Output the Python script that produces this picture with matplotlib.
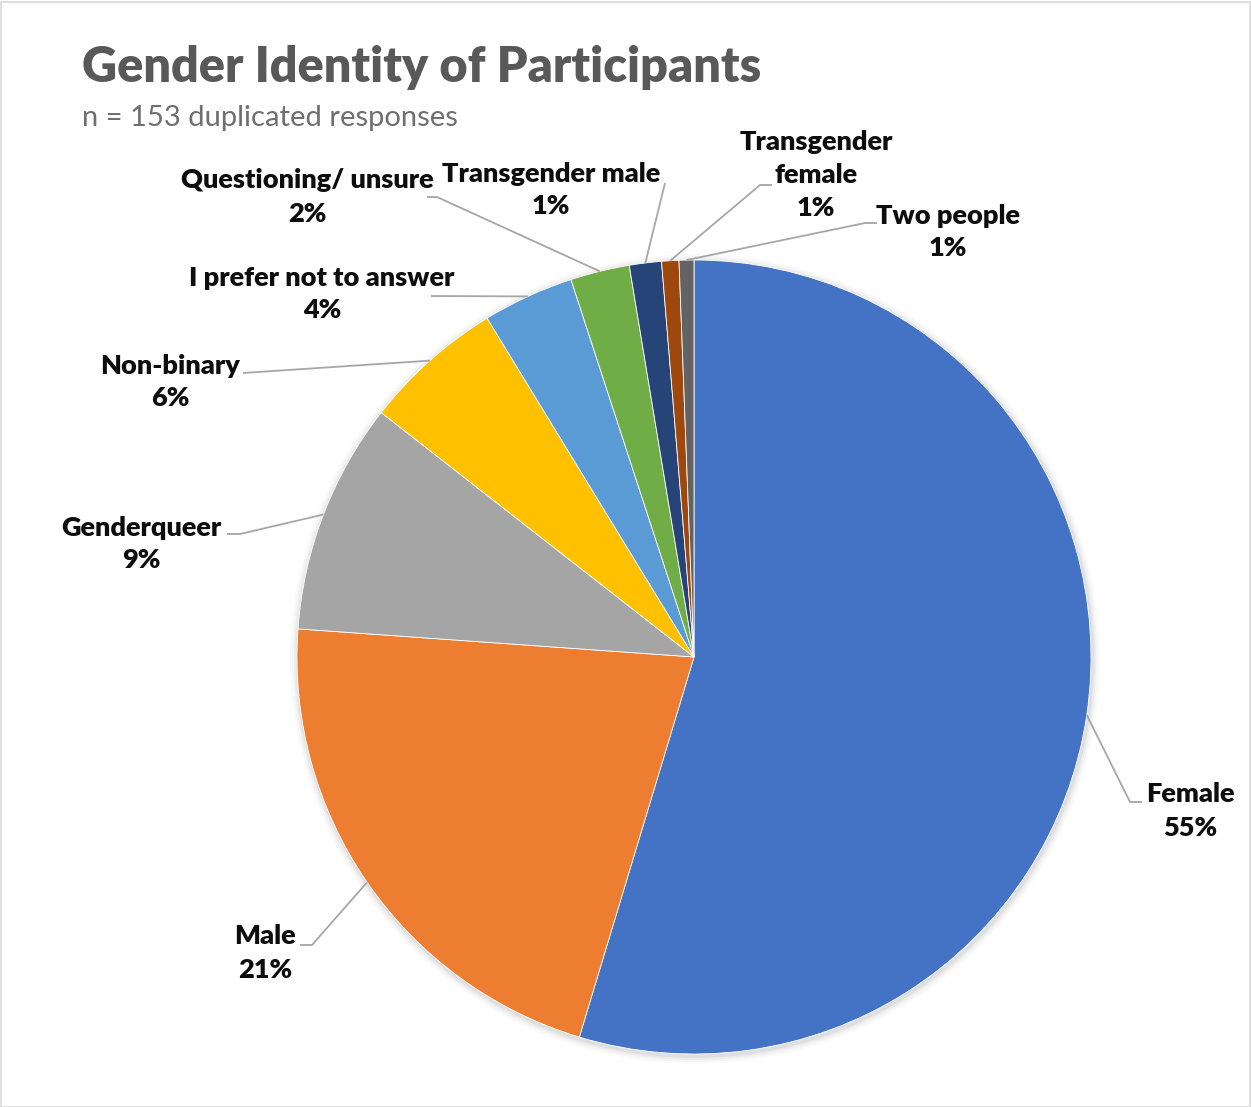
import matplotlib
matplotlib.use('Agg')
import matplotlib.pyplot as plt
import numpy as np
from matplotlib.patches import Rectangle, Circle

categories = ['Female', 'Male', 'Genderqueer', 'Non-binary', 'I prefer not to answer',
              'Questioning/ unsure', 'Transgender male', 'Transgender female', 'Two people']
values = [54.5, 21.4, 9.4, 5.7, 3.7, 2.4, 1.3, 0.7, 0.6]
colors = ['#4472C4', '#ED7D31', '#A5A5A5', '#FFC000', '#5B9BD5',
          '#70AD47', '#264478', '#9E480E', '#636363']
label_texts = ['Female', 'Male', 'Genderqueer', 'Non-binary', 'I prefer not to answer',
               'Questioning/ unsure', 'Transgender male', 'Transgender\nfemale', 'Two people']

W, H = 1251, 1107
FONT = 'Lato'
fig = plt.figure(figsize=(W / 100, H / 100), dpi=100)
ax = fig.add_axes([0, 0, 1, 1])

cx, cy, R = 694, H - 657, 397

# soft shadow
for dr, a in [(8, 0.015), (6, 0.025), (4, 0.035), (2, 0.05)]:
    ax.add_patch(Circle((cx + 1, cy - 2), R + dr, facecolor='black', alpha=a, lw=0, zorder=0))

wedges, _ = ax.pie(values, colors=colors, startangle=90, counterclock=False,
                   center=(cx, cy), radius=R, frame=True,
                   wedgeprops=dict(edgecolor='white', linewidth=0.6))
ax.set_xlim(0, W)
ax.set_ylim(0, H)
ax.set_aspect('equal')
ax.axis('off')

# label placement (pixel coords from top): text center, elbow, end
layout = [
    ((1190, 811), (1130, 802), (1142, 802)),
    ((265, 953), (312, 945), (300, 945)),
    ((141, 544), (240, 534), (227, 534)),
    ((170, 382), (243, 373), (243, 373)),
    ((322, 294), (431, 296), (431, 296)),
    ((307, 197), (437, 197), (427, 197)),
    ((551, 190), (665, 183), (665, 183)),
    ((816, 175), (760, 185), (772, 185)),
    ((948, 232), (865, 223), (877, 223)),
]

total = sum(values)
for w, txt, v, (tc, el, en) in zip(wedges, label_texts, values, layout):
    ang = np.deg2rad((w.theta1 + w.theta2) / 2)
    sx, sy = cx + R * np.cos(ang), cy + R * np.sin(ang)
    ax.plot([sx, el[0], en[0]], [sy, H - el[1], H - en[1]], color='#a6a6a6', lw=1.3,
            solid_capstyle='butt', zorder=3, clip_on=False)
    pct = f"{round(v / total * 100):d}%"
    ax.text(tc[0], H - tc[1], f"{txt}\n{pct}", ha='center', va='center',
            fontsize=19.5, fontweight='heavy', family=FONT, color='#0d0d0d',
            linespacing=1.45, zorder=4)

fig.text(82 / W, 1 - 67 / H, 'Gender Identity of Participants', ha='left', va='center',
         fontsize=35, fontweight='heavy', family=FONT, color='#595959')
fig.text(82 / W, 1 - 118 / H, 'n = 153 duplicated responses', ha='left', va='center',
         fontsize=21, family=FONT, color='#6f6f6f')

fig.add_artist(Rectangle((0.5 / W, 0.5 / H), 1 - 2 / W, 1 - 2 / H, transform=fig.transFigure,
                         fill=False, edgecolor='#d9d9d9', lw=1.2))

fig.savefig('out.png', dpi=100)
